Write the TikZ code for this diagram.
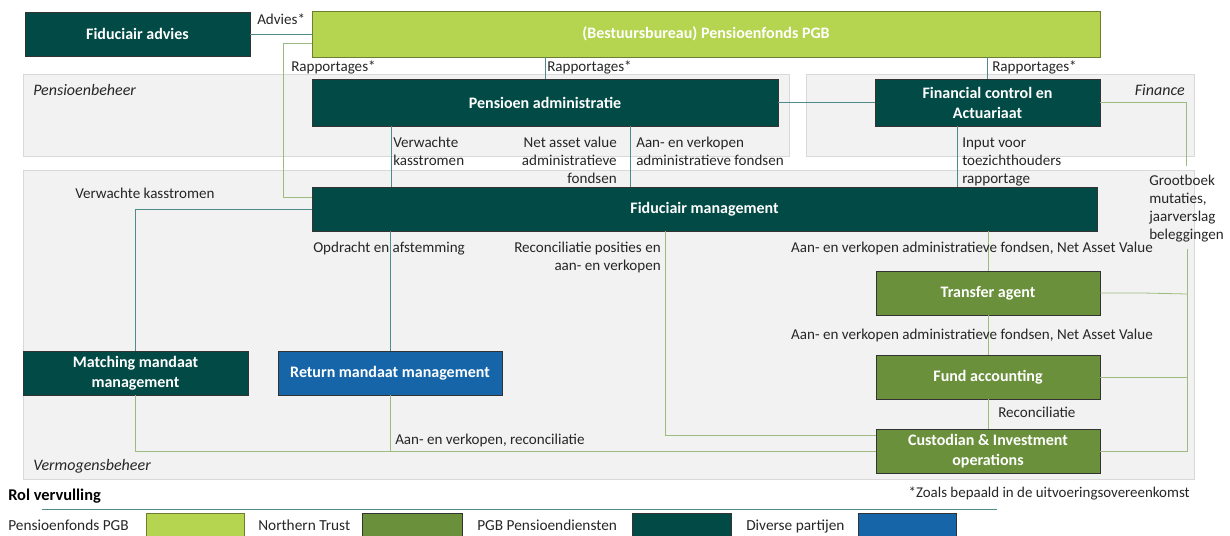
\documentclass[tikz,border=0pt]{standalone}
\usepackage{fontspec}
\setmainfont{Carlito}
\usetikzlibrary{fit}
\definecolor{dteal}{HTML}{024A46}
\definecolor{lgreen}{HTML}{B5D44F}
\definecolor{mgreen}{HTML}{6A903B}
\definecolor{dblue}{HTML}{1565A8}
\definecolor{tline}{HTML}{4F8B88}
\definecolor{gline}{HTML}{9DBB7E}
\definecolor{regfill}{HTML}{F2F2F2}
\definecolor{regdraw}{HTML}{D9D9D9}
\tikzset{
  box/.style={inner sep=0pt, draw=black!80, line width=0.6pt},
  darkbox/.style={box, fill=dteal},
  pgbbox/.style={box, fill=lgreen, draw=lgreen!60!black},
  ntbox/.style={box, fill=mgreen},
  bluebox/.style={box, fill=dblue},
  btxt/.style={inner sep=0pt, text=white, align=center, font=\bfseries\fontsize{12}{15}\selectfont},
  region/.style={fill=regfill, draw=regdraw, line width=0.6pt},
  tl/.style={draw=tline, line width=0.6pt},
  gl/.style={draw=gline, line width=0.6pt},
  lbl/.style={inner sep=0pt, font=\fontsize{11.3}{13.5}\selectfont, text=black!85},
  rlbl/.style={inner sep=0pt, font=\itshape\fontsize{12}{13.5}\selectfont, text=black!85},
  leg/.style={inner sep=0pt, font=\fontsize{11.5}{13}\selectfont, text=black!85, anchor=base west},
}
\begin{document}
\begin{tikzpicture}[x=0.75pt,y=-0.75pt]
\useasboundingbox (0,0) rectangle (1230,535);
\clip (0,0) rectangle (1230,535);
% regions
\path[region] (23,74) rectangle (789,156);
\path[region] (806,74) rectangle (1194,156);
\path[region] (23,170) rectangle (1194,479);
\node[rlbl, anchor=base west] (rpb) at (33,95) {Pensioenbeheer};
\node[rlbl, anchor=base east] (rfi) at (1185,95) {Finance};
\node[rlbl, anchor=base west] (rvb) at (33,470) {Vermogensbeheer};
% boxes
\node[darkbox, fit={(25,12) (250,56)}] (fa) {};
\node[btxt] at (fa.center) {Fiduciair advies};
\node[pgbbox, fit={(312,11) (1100,57)}] (pgb) {};
\node[btxt] at (pgb.center) {(Bestuursbureau) Pensioenfonds PGB};
\node[darkbox, fit={(312,79) (778,126)}] (pa) {};
\node[btxt] at (pa.center) {Pensioen administratie};
\node[darkbox, fit={(875,79) (1100,126)}] (fc) {};
\node[btxt] at (fc.center) {Financial control en\\Actuariaat};
\node[darkbox, fit={(312,187) (1097,231)}] (fm) {};
\node[btxt] at (fm.center) {Fiduciair management};
\node[darkbox, fit={(23,351) (248,395)}] (mm) {};
\node[btxt] at (mm.center) {Matching mandaat\\management};
\node[bluebox, fit={(278,351) (502,395)}] (rm) {};
\node[btxt] at (rm.center) {Return mandaat management};
\node[ntbox, fit={(876,271) (1100,315)}] (ta) {};
\node[btxt] at (ta.center) {Transfer agent};
\node[ntbox, fit={(876,355) (1100,399)}] (fu) {};
\node[btxt] at (fu.center) {Fund accounting};
\node[ntbox, fit={(876,429) (1100,473)}] (cu) {};
\node[btxt] at (cu.center) {Custodian \& Investment\\operations};
% connectors
\draw[tl] (fa.east) -- (pgb.west |- fa.east);
\node[lbl, anchor=base west] at (257,25) {Advies*};
\draw[gl] (pgb.west |- 0,43) -- (283,43) -- (283,197) -- (fm.west |- 0,197);
\node[lbl, anchor=base west] at (291,71) {Rapportages*};
\draw[tl] (pgb.south -| pa.north) -- (pa.north);
\node[lbl, anchor=base west] at (547,71) {Rapportages*};
\draw[tl] (pgb.south -| fc.north) -- (fc.north);
\node[lbl, anchor=base west] at (992,71) {Rapportages*};
\draw[tl] (pa.east) -- (fc.west);
% pensioen admin -> FM
\draw[tl] (pa.south -| 391,0) -- (fm.north -| 391,0);
\node[lbl, anchor=base west, align=left] at (393,165) {Verwachte\\kasstromen};
\draw[tl] (pa.south -| 630,0) -- (fm.north -| 630,0);
\node[lbl, anchor=base east, align=right] at (617,183) {Net asset value\\administratieve\\fondsen};
\node[lbl, anchor=base west, align=left] at (636,165) {Aan- en verkopen\\administratieve fondsen};
\draw[tl] (fc.south -| 957,0) -- (fm.north -| 957,0);
\node[lbl, anchor=base west, align=left] at (962,183) {Input voor\\toezichthouders\\rapportage};
% grootboek
\coordinate (g1) at (1186,166);
\draw[gl] (fc.east) -| (g1);
\node[lbl, anchor=base west, align=left] (gb) at (1149,239) {Grootboek\\mutaties,\\jaarverslag\\beleggingen};
\coordinate (g2) at (1187,249);
\draw[gl] (g2) |- (cu.east);
\draw[gl] (ta.east) -- (1143,293) -- (1187,294);
\draw[gl] (fu.east) -- (fu.east -| g2);
% FM -> matching
\draw[tl] (fm.west) -| (mm.north);
\node[lbl, anchor=base west] at (75,198) {Verwachte kasstromen};
% FM -> return
\draw[tl] (fm.south -| rm.north) -- (rm.north);
\node[lbl, anchor=base west] at (313,252) {Opdracht en afstemming};
% FM -> custodian
\draw[gl] (fm.south -| 665,0) |- (cu.west |- 0,435);
\node[lbl, anchor=base east, align=right] at (661,270) {Reconciliatie posities en\\aan- en verkopen};
% FM -> transfer -> fund -> cust
\draw[gl] (fm.south -| ta.north) -- (ta.north);
\node[lbl, anchor=base] at (972,252) {Aan- en verkopen administratieve fondsen, Net Asset Value};
\draw[gl] (ta.south) -- (fu.north);
\node[lbl, anchor=base] at (972,339) {Aan- en verkopen administratieve fondsen, Net Asset Value};
\draw[gl] (fu.south) -- (cu.north);
\node[lbl, anchor=base west] at (998,417) {Reconciliatie};
% matching/return -> custodian
\draw[gl] (mm.south) |- (cu.west);
\draw[gl] (rm.south) -- (rm.south |- cu.west);
\node[lbl, anchor=base west] at (395,444) {Aan- en verkopen, reconciliatie};
% footnote & legend
\node[lbl, anchor=base east, font=\fontsize{11.2}{12}\selectfont] at (1190,497) {*Zoals bepaald in de uitvoeringsovereenkomst};
\node[anchor=base west, inner sep=0pt, font=\bfseries\fontsize{12.3}{13}\selectfont] at (8,500) {Rol vervulling};
\draw[tl] (42,509) -- (997,509);
\node[leg] at (8,530) {Pensioenfonds PGB};
\node[pgbbox, fit={(146,513) (244,537)}] (l1) {};
\node[leg] at (258,530) {Northern Trust};
\node[ntbox, fit={(362,513) (462,537)}] (l2) {};
\node[leg] at (477,530) {PGB Pensioendiensten};
\node[darkbox, fit={(632,513) (731,537)}] (l3) {};
\node[leg] at (746,530) {Diverse partijen};
\node[bluebox, fit={(858,513) (956,537)}] (l4) {};
\end{tikzpicture}
\end{document}
